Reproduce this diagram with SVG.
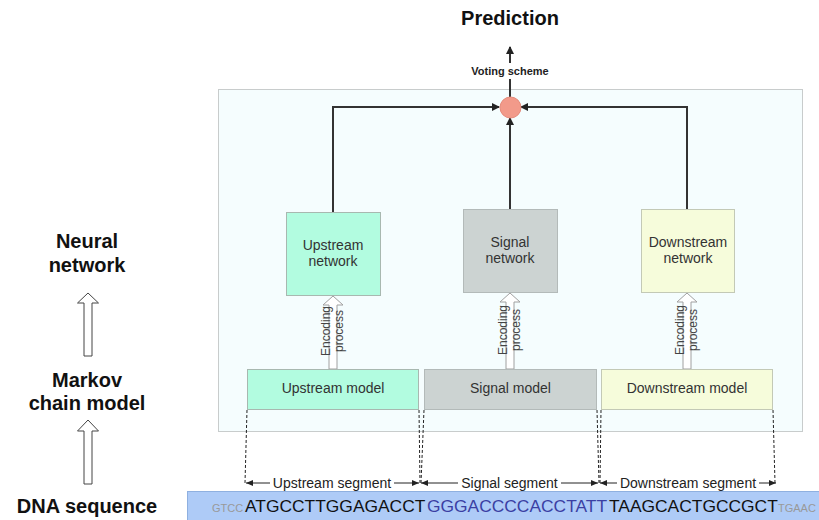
<svg xmlns="http://www.w3.org/2000/svg" width="819" height="520" viewBox="0 0 819 520">
<defs>
<style>
text{font-family:"Liberation Sans",Arial,sans-serif;}
.lbl{font-weight:bold;font-size:20px;fill:#111;text-anchor:middle;}
.box{font-size:14px;fill:#333;text-anchor:middle;}
.enc{font-size:12px;fill:#444;text-anchor:middle;}
.seg{font-size:14px;fill:#222;text-anchor:middle;}
.up{fill:#b2fce0;stroke:#a8b8b0;stroke-width:1;}
.sig{fill:#ccd3d2;stroke:#b3bab9;stroke-width:1;}
.dn{fill:#f6fcdb;stroke:#c3c9b6;stroke-width:1;}
.conn{fill:none;stroke:#333;stroke-width:2;}
.dash{fill:none;stroke:#222;stroke-width:1;stroke-dasharray:3,2;}
.segl{fill:none;stroke:#222;stroke-width:1;}
.hollow{fill:#fff;stroke:#a0a0a0;stroke-width:1;}
.hollowL{fill:#fff;stroke:#444;stroke-width:1;}
</style>
<marker id="ah" markerWidth="8" markerHeight="8" refX="7" refY="4" orient="auto" markerUnits="userSpaceOnUse">
<path d="M0,0 L8,4 L0,8 Z" fill="#222"/>
</marker>
<marker id="sh" markerWidth="7" markerHeight="6" refX="7" refY="3" orient="auto-start-reverse" markerUnits="userSpaceOnUse">
<path d="M0,0 L7,3 L0,6 Z" fill="#222"/>
</marker>
</defs>
<rect width="819" height="520" fill="#fff"/>

<g id="container">
<rect x="218.5" y="89.5" width="584" height="342" fill="#f5fdfe" stroke="#c8cccc" stroke-width="1"/>
</g>

<g id="prediction">
<text class="lbl" x="510" y="25">Prediction</text>
</g>

<g id="left-labels">
<text class="lbl" x="87" y="248">Neural</text>
<text class="lbl" x="87" y="272">network</text>
<text class="lbl" x="87" y="387">Markov</text>
<text class="lbl" x="87" y="410">chain model</text>
<text class="lbl" x="87" y="513">DNA sequence</text>
<path class="hollowL" d="M88,293 L98.5,303 L92,303 L92,356 L84,356 L84,303 L77.5,303 Z"/>
<path class="hollowL" d="M88,420 L98.5,431 L92,431 L92,484 L84,484 L84,431 L77.5,431 Z"/>
</g>

<g id="connectors">
<path class="conn" d="M333,212 V107 H499" marker-end="url(#ah)"/>
<path class="conn" d="M510,209 V118" marker-end="url(#ah)"/>
<path class="conn" d="M687,210 V107 H521" marker-end="url(#ah)"/>
<path class="conn" d="M510,97 V79"/>
<path class="conn" d="M510,63 V47" marker-end="url(#ah)"/>
<path class="hollow" d="M333,296 L343,305 L337,305 L337,369 L329,369 L329,305 L323,305 Z"/>
<path class="hollow" d="M510,293 L520,302 L514,302 L514,369 L506,369 L506,302 L500,302 Z"/>
<path class="hollow" d="M687,293 L697,302 L691,302 L691,369 L683,369 L683,302 L677,302 Z"/>
<path class="dash" d="M247,410 L245,483"/>
<path class="dash" d="M419,410 L420,483"/>
<path class="dash" d="M424,410 L421,483"/>
<path class="dash" d="M597,410 L599,483"/>
<path class="dash" d="M601,410 L600,483"/>
<path class="dash" d="M773,410 L775,483"/>
<path class="segl" d="M270,483 H246" marker-end="url(#sh)"/>
<path class="segl" d="M394,483 H419" marker-end="url(#sh)"/>
<path class="segl" d="M458,483 H421" marker-end="url(#sh)"/>
<path class="segl" d="M561,483 H598" marker-end="url(#sh)"/>
<path class="segl" d="M617,483 H600" marker-end="url(#sh)"/>
<path class="segl" d="M759,483 H776" marker-end="url(#sh)"/>
</g>

<g id="voting">
<circle cx="510.5" cy="107.5" r="10.5" fill="#f29a8a" stroke="#e58a7a" stroke-width="1"/>
<text x="510" y="75" font-size="11" font-weight="bold" fill="#222" text-anchor="middle">Voting scheme</text>
</g>

<g id="upstream-network">
<rect class="up" x="286.5" y="212.5" width="94" height="83"/>
<text class="box" x="333" y="250">Upstream</text>
<text class="box" x="333" y="266">network</text>
</g>
<g id="signal-network">
<rect class="sig" x="463.5" y="209.5" width="94" height="83"/>
<text class="box" x="510" y="247">Signal</text>
<text class="box" x="510" y="263">network</text>
</g>
<g id="downstream-network">
<rect class="dn" x="641.5" y="209.5" width="93" height="83"/>
<text class="box" x="688" y="247">Downstream</text>
<text class="box" x="688" y="263">network</text>
</g>

<g id="encoding-labels">
<text class="enc" transform="translate(330,331) rotate(-90)">Encoding</text>
<text class="enc" transform="translate(343,331) rotate(-90)">process</text>
<text class="enc" transform="translate(507,330) rotate(-90)">Encoding</text>
<text class="enc" transform="translate(520,330) rotate(-90)">process</text>
<text class="enc" transform="translate(684,330) rotate(-90)">Encoding</text>
<text class="enc" transform="translate(697,330) rotate(-90)">process</text>
</g>

<g id="upstream-model">
<rect class="up" x="247.5" y="369.5" width="171" height="40"/>
<text class="box" x="333" y="393">Upstream model</text>
</g>
<g id="signal-model">
<rect class="sig" x="424.5" y="369.5" width="172" height="40"/>
<text class="box" x="510.5" y="393">Signal model</text>
</g>
<g id="downstream-model">
<rect class="dn" x="601.5" y="369.5" width="171" height="40"/>
<text class="box" x="687" y="393">Downstream model</text>
</g>

<g id="segment-labels">
<text class="seg" x="332" y="488">Upstream segment</text>
<text class="seg" x="509.5" y="488">Signal segment</text>
<text class="seg" x="688" y="488">Downstream segment</text>
</g>

<g id="sequence">
<rect x="187.5" y="491.5" width="632" height="29" fill="#aecbf7" stroke="#8fb0e0" stroke-width="1"/>
<text x="212" y="512" font-size="11" fill="#999">GTCC</text>
<text x="245" y="512" font-size="17.4" fill="#111">ATGCCTTGGAGACCT</text>
<text x="427" y="512" font-size="17.4" fill="#3b3fa3">GGGACCCCACCTATT</text>
<text x="609" y="512" font-size="17.4" fill="#111">TAAGCACTGCCGCT</text>
<text x="778" y="512" font-size="11" fill="#999">TGAAC</text>
</g>
</svg>
